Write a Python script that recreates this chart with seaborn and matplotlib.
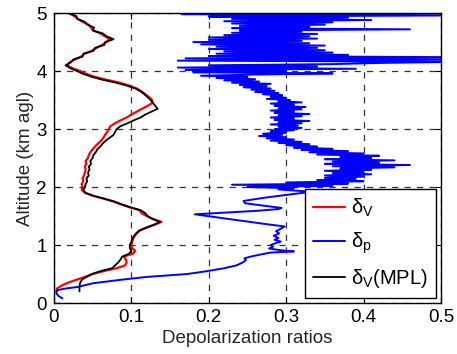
import matplotlib

matplotlib.use("Agg")
import matplotlib.pyplot as plt
import numpy as np
import seaborn as sns

# range-bin grid for the two depolarization-ratio profiles
alt_v = np.round(np.arange(0.20, 5.001, 0.05), 3)

delta_v = [
    0.003, 0.004, 0.010, 0.018, 0.029, 0.040, 0.050, 0.064, 0.081, 0.092,
    0.094, 0.093, 0.090, 0.102, 0.105, 0.101, 0.100, 0.101, 0.102, 0.104,
    0.107, 0.111, 0.120, 0.130, 0.139, 0.128, 0.120, 0.113, 0.111, 0.098,
    0.087, 0.077, 0.064, 0.050, 0.040, 0.036, 0.037, 0.036, 0.038, 0.037,
    0.039, 0.040, 0.041, 0.040, 0.042, 0.041, 0.044, 0.045, 0.047, 0.050,
    0.053, 0.057, 0.061, 0.064, 0.066, 0.069, 0.071, 0.073, 0.079, 0.086,
    0.094, 0.100, 0.107, 0.114, 0.121, 0.127, 0.127, 0.123, 0.118, 0.113,
    0.107, 0.097, 0.085, 0.068, 0.053, 0.042, 0.034, 0.024, 0.017, 0.020,
    0.027, 0.035, 0.040, 0.049, 0.055, 0.062, 0.068, 0.072, 0.066, 0.060,
    0.051, 0.048, 0.045, 0.037, 0.031, 0.026, 0.020,
]

delta_v_mpl = [
    0.033, 0.033, 0.033, 0.034, 0.036, 0.042, 0.049, 0.060, 0.075, 0.079,
    0.083, 0.086, 0.088, 0.097, 0.100, 0.098, 0.098, 0.100, 0.101, 0.103,
    0.106, 0.110, 0.119, 0.129, 0.137, 0.127, 0.121, 0.118, 0.112, 0.099,
    0.088, 0.078, 0.065, 0.051, 0.041, 0.038, 0.040, 0.041, 0.043, 0.042,
    0.045, 0.044, 0.046, 0.045, 0.048, 0.047, 0.050, 0.051, 0.054, 0.056,
    0.060, 0.063, 0.067, 0.072, 0.077, 0.079, 0.081, 0.086, 0.095, 0.103,
    0.112, 0.118, 0.126, 0.134, 0.131, 0.128, 0.125, 0.121, 0.117, 0.112,
    0.105, 0.094, 0.080, 0.063, 0.049, 0.038, 0.030, 0.021, 0.015, 0.022,
    0.025, 0.037, 0.038, 0.051, 0.053, 0.065, 0.066, 0.077, 0.068, 0.063,
    0.050, 0.052, 0.043, 0.040, 0.030, 0.029, 0.018,
]

# particle depolarization ratio, lower part read point by point
alt_p_low = [
    0.08, 0.12, 0.17, 0.22, 0.25, 0.28, 0.34, 0.40, 0.45, 0.50,
    0.55, 0.60, 0.65, 0.70, 0.74, 0.77, 0.80, 0.84, 0.87, 0.89,
    0.91, 0.94, 0.97, 1.00, 1.03, 1.06, 1.09, 1.12, 1.16, 1.20,
    1.24, 1.28, 1.32, 1.37, 1.43, 1.49, 1.53, 1.56, 1.59, 1.62,
    1.64, 1.68, 1.72, 1.76, 1.80, 1.83, 1.86, 1.89, 1.92, 1.94,
    1.96,
]
delta_p_low = [
    0.011, 0.006, 0.003, 0.004, 0.015, 0.032, 0.050, 0.086, 0.120, 0.172,
    0.198, 0.220, 0.236, 0.244, 0.248, 0.246, 0.254, 0.268, 0.280, 0.310,
    0.293, 0.278, 0.283, 0.280, 0.286, 0.293, 0.285, 0.290, 0.284, 0.291,
    0.287, 0.293, 0.298, 0.269, 0.236, 0.204, 0.182, 0.222, 0.262, 0.290,
    0.294, 0.270, 0.247, 0.245, 0.264, 0.280, 0.298, 0.315, 0.333, 0.310,
    0.290,
]

# noisy upper part on a 20 m grid
alt_p_high = np.round(np.arange(1.98, 5.001, 0.02), 3)
delta_p_high = [
    0.31, 0.25, 0.36, 0.23, 0.38, 0.30, 0.40, 0.34, 0.39, 0.35,
    0.40, 0.35, 0.41, 0.36, 0.40, 0.35, 0.41, 0.37, 0.44, 0.36,
    0.46, 0.35, 0.42, 0.36, 0.44, 0.35, 0.41, 0.37, 0.42, 0.34,
    0.40, 0.33, 0.38, 0.32, 0.36, 0.31, 0.34, 0.30, 0.33, 0.29,
    0.32, 0.28, 0.31, 0.275, 0.30, 0.265, 0.295, 0.27, 0.30, 0.28,
    0.31, 0.285, 0.32, 0.29, 0.315, 0.28, 0.32, 0.29, 0.33, 0.285,
    0.31, 0.28, 0.32, 0.29, 0.33, 0.285, 0.31, 0.28, 0.32, 0.29,
    0.325, 0.285, 0.31, 0.28, 0.32, 0.29, 0.305, 0.275, 0.30, 0.28,
    0.295, 0.27, 0.29, 0.26, 0.285, 0.255, 0.28, 0.245, 0.275, 0.24,
    0.28, 0.23, 0.265, 0.22, 0.26, 0.21, 0.25, 0.19, 0.26, 0.36,
    0.18, 0.30, 0.17, 0.39, 0.16, 0.34, 0.20, 0.36, 0.42, 0.52,
    0.16, 0.52, 0.17, 0.52, 0.20, 0.38, 0.21, 0.36, 0.22, 0.35,
    0.20, 0.34, 0.21, 0.35, 0.19, 0.33, 0.18, 0.32, 0.20, 0.34,
    0.20, 0.33, 0.22, 0.34, 0.23, 0.32, 0.24, 0.46, 0.23, 0.33,
    0.24, 0.35, 0.23, 0.36, 0.22, 0.41, 0.23, 0.38, 0.20, 0.52,
    0.165, 0.52,
]

alt_p = np.concatenate([alt_p_low, alt_p_high])
delta_p = np.concatenate([delta_p_low, delta_p_high])

sns.set_theme(style="ticks")
plt.rcParams.update(
    {
        "font.family": ["Liberation Sans", "DejaVu Sans"],
        "mathtext.fontset": "custom",
        "mathtext.rm": "Liberation Sans",
        "mathtext.it": "Liberation Sans",
        "axes.edgecolor": "black",
        "axes.linewidth": 1.0,
        "xtick.direction": "in",
        "ytick.direction": "in",
        "xtick.top": True,
        "ytick.right": True,
        "xtick.color": "black",
        "ytick.color": "black",
        "text.color": "black",
    }
)

fig = plt.figure(figsize=(4.57, 3.54), dpi=100)
ax = fig.add_axes([0.118, 0.144, 0.847, 0.819])

sns.lineplot(x=delta_v, y=alt_v, sort=False, estimator=None, color="#ff0000",
             lw=1.6, ax=ax, label=r"$\mathrm{\delta_V}$")
sns.lineplot(x=delta_p, y=alt_p, sort=False, estimator=None, color="#0000ff",
             lw=1.4, ax=ax, label=r"$\mathrm{\delta_p}$")
sns.lineplot(x=delta_v_mpl, y=alt_v, sort=False, estimator=None, color="black",
             lw=1.3, ax=ax, label=r"$\mathrm{\delta_V}$(MPL)")

ax.set_xlim(0, 0.5)
ax.set_ylim(0, 5)
ax.set_xticks([0, 0.1, 0.2, 0.3, 0.4, 0.5])
ax.set_xticklabels(["0", "0.1", "0.2", "0.3", "0.4", "0.5"])
ax.set_yticks([0, 1, 2, 3, 4, 5])
ax.tick_params(labelsize=13.5, length=4, width=0.8)
ax.tick_params(axis="x", pad=4)
ax.tick_params(axis="y", pad=5)
ax.grid(True, color="black", ls=(0, (5, 5)), lw=0.9, alpha=0.8)
ax.set_xlabel("Depolarization ratios", fontsize=13.5, labelpad=3)
ax.set_ylabel("Altitude (km agl)", fontsize=13.5, labelpad=2)

leg = ax.legend(loc="lower right", fontsize=14.5, frameon=True, fancybox=False,
                framealpha=1, edgecolor="black", borderaxespad=0.25,
                handlelength=1.6, handletextpad=0.3, labelspacing=0.55,
                borderpad=0.4)
leg.get_frame().set_linewidth(1.0)

fig.savefig("out.png", dpi=100, facecolor="white")
